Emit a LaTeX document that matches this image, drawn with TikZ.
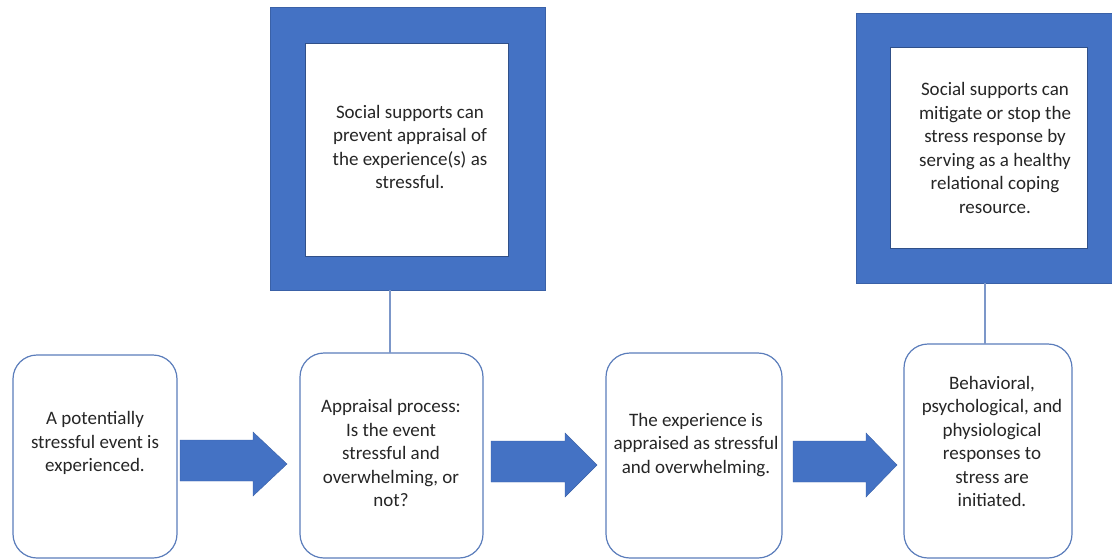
\documentclass[tikz,border=0pt]{standalone}
\usepackage{fontspec}
\setmainfont{Carlito}
\definecolor{obl}{HTML}{4472C4}
\definecolor{bord}{HTML}{5B7DBB}
\definecolor{txt}{HTML}{262626}
\begin{document}
\begin{tikzpicture}[x=1pt,y=-1pt,
  every node/.style={inner sep=0pt, outer sep=0pt},
  rbox/.style={draw=bord, line width=1.2pt, rounded corners=24pt, fill=white},
  lbl/.style={align=center, text=txt, font=\fontsize{19}{23.5}\selectfont},
  blk/.style={fill=obl, draw=obl!85!black, line width=0.4pt},
  conn/.style={draw=bord!80!white, line width=1.2pt}]
\useasboundingbox (0,0) rectangle (1112,560);
% top frames
\fill[blk] (270,7) rectangle (545,290);
\node[fill=white, draw=obl!70!black, line width=0.4pt, minimum width=203pt, minimum height=213pt] (in1) at (406.5,149.5) {};
\coordinate (f1s) at (390,290);
\node[lbl] (t1) at (410,147) {Social supports can\\prevent appraisal of\\the experience(s) as\\stressful.};
\fill[blk] (856,13) rectangle (1112,283);
\node[fill=white, draw=obl!70!black, line width=0.4pt, minimum width=197pt, minimum height=201pt] (in2) at (988.5,147.5) {};
\coordinate (f2s) at (985,283);
\node[lbl] (t2) at (995,148) {Social supports can\\mitigate or stop the\\stress response by\\serving as a healthy\\relational coping\\resource.};
% bottom boxes
\node[rbox, minimum width=164pt, minimum height=203pt] (b1) at (95,456.5) {};
\node[lbl] (tb1) at (95,443) {A potentially\\stressful event is\\experienced.};
\node[rbox, minimum width=183pt, minimum height=205pt] (b2) at (391.5,455.5) {};
\node[lbl] (tb2) at (391,453) {Appraisal process:\\Is the event\\stressful and\\overwhelming, or\\not?};
\node[rbox, minimum width=176pt, minimum height=205pt] (b3) at (694,455.5) {};
\node[lbl] (tb3) at (696,445) {The experience is\\appraised as stressful\\and overwhelming.};
\node[rbox, minimum width=168pt, minimum height=214pt] (b4) at (988,451) {};
\node[lbl] (tb4) at (992,441.5) {Behavioral,\\psychological, and\\physiological\\responses to\\stress are\\initiated.};
% connectors
\draw[conn] (f1s) -- (f1s |- b2.north);
\draw[conn] (f2s) -- (f2s |- b4.north);
% block arrows
\fill[blk] (180,440) -- (253,440) -- (253,432) -- (287,464) -- (253,496) -- (253,481) -- (180,481) -- cycle;
\fill[blk] (491,441) -- (565,441) -- (565,433) -- (597,465) -- (565,497) -- (565,482) -- (491,482) -- cycle;
\fill[blk] (793,441) -- (866,441) -- (866,433) -- (897,465) -- (866,497) -- (866,482) -- (793,482) -- cycle;
\end{tikzpicture}
\end{document}
